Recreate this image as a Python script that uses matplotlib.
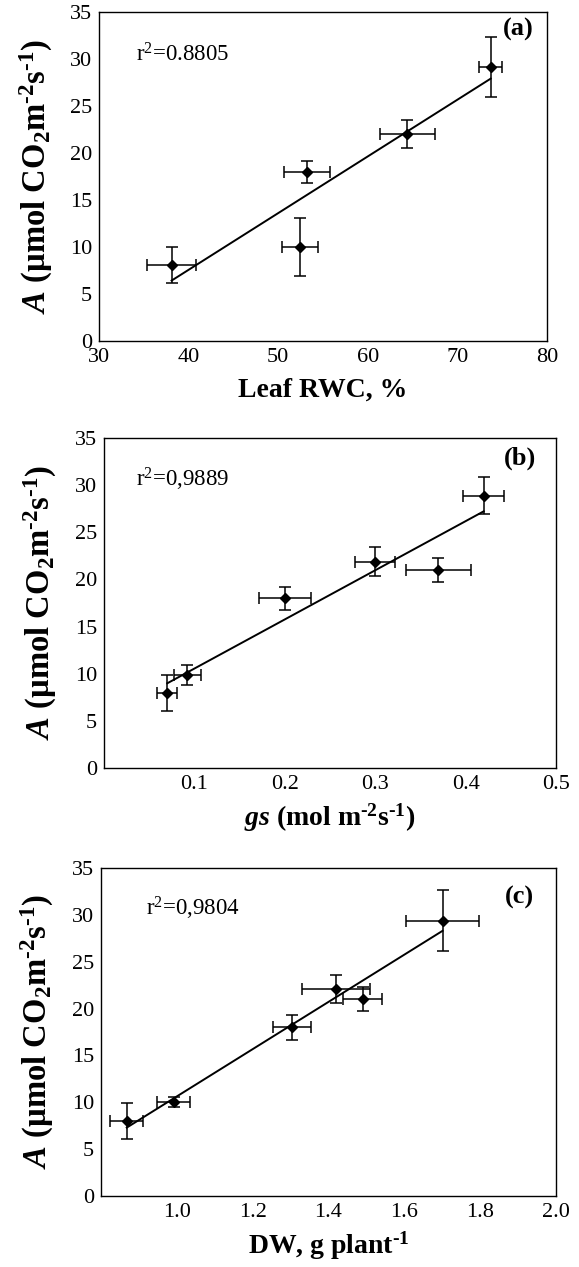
import numpy as np
import matplotlib.pyplot as plt

plt.rcParams['font.family'] = ['Liberation Serif', 'DejaVu Serif']
plt.rcParams['mathtext.fontset'] = 'custom'
plt.rcParams['mathtext.rm'] = 'Liberation Serif'
plt.rcParams['mathtext.it'] = 'Liberation Serif:italic'
plt.rcParams['mathtext.bf'] = 'Liberation Serif:bold'
plt.rcParams['mathtext.bfit'] = 'Liberation Serif:bold:italic'

# (a) leaf RWC vs A
rwc = [38.1, 53.2, 52.4, 64.4, 73.7]
rwc_err = [2.7, 2.6, 2.0, 3.1, 1.3]
a_rwc = [8.1, 18.0, 10.0, 22.0, 29.1]
a_rwc_err = [1.9, 1.15, 3.05, 1.5, 3.2]

# (b) gs vs A
gs = [0.070, 0.092, 0.200, 0.300, 0.370, 0.420]
gs_err = [0.011, 0.015, 0.029, 0.022, 0.036, 0.023]
a_gs = [8.0, 9.9, 18.0, 21.9, 21.0, 28.9]
a_gs_err = [1.9, 1.07, 1.2, 1.5, 1.25, 2.0]

# (c) DW vs A
dw = [0.868, 0.992, 1.303, 1.420, 1.490, 1.701]
dw_err = [0.044, 0.044, 0.050, 0.090, 0.051, 0.097]
a_dw = [8.0, 10.0, 18.0, 22.1, 21.0, 29.4]
a_dw_err = [1.9, 0.55, 1.3, 1.5, 1.3, 3.25]

ylab = r'$\mathbfit{A}$ (µmol CO$_{\mathbf{2}}$m$^{\mathbf{‐2}}$s$^{\mathbf{‐1}}$)'

panels = [
    dict(x=rwc, xe=rwc_err, y=a_rwc, ye=a_rwc_err, xlim=(30, 80), xt=[30, 40, 50, 60, 70, 80],
         xtl=['30', '40', '50', '60', '70', '80'], xlab='Leaf RWC, %', r2='r$^2$=0.8805',
         tag='(a)', pos=[0.171, 0.7309, 0.774, 0.2597], r2xy=(0.082, 0.868), tagxy=(0.97, 0.948)),
    dict(x=gs, xe=gs_err, y=a_gs, ye=a_gs_err, xlim=(0, 0.5), xt=[0.1, 0.2, 0.3, 0.4, 0.5],
         xtl=['0.1', '0.2', '0.3', '0.4', '0.5'],
         xlab=r'$\mathbfit{gs}$ (mol m$^{\mathbf{‐2}}$s$^{\mathbf{‐1}}$)', r2='r$^2$=0,9889',
         tag='(b)', pos=[0.1796, 0.3938, 0.7807, 0.2605], r2xy=(0.071, 0.874), tagxy=(0.957, 0.94)),
    dict(x=dw, xe=dw_err, y=a_dw, ye=a_dw_err, xlim=(0.8, 2.0), xt=[1.0, 1.2, 1.4, 1.6, 1.8, 2.0],
         xtl=['1.0', '1.2', '1.4', '1.6', '1.8', '2.0'],
         xlab=r'DW, g plant$^{\mathbf{‐1}}$', r2='r$^2$=0,9804',
         tag='(c)', pos=[0.1744, 0.0560, 0.7858, 0.2589], r2xy=(0.099, 0.876), tagxy=(0.951, 0.91)),
]

fig = plt.figure(figsize=(5.79, 12.67), dpi=100)

for p in panels:
    ax = fig.add_axes(p['pos'])
    x = np.array(p['x'])
    y = np.array(p['y'])
    # linear fit line across the data range
    k, b = np.polyfit(x, y, 1)
    xs = np.array([x.min(), x.max()])
    ax.plot(xs, k * xs + b, c='black', lw=1.4, zorder=2)
    ax.errorbar(x, y, xerr=p['xe'], yerr=p['ye'], fmt='D', ms=5, c='black',
                ecolor='black', elinewidth=1.1, capsize=4, capthick=1.1, zorder=3)
    ax.set_xlim(p['xlim'])
    ax.set_ylim(0, 35)
    ax.set_xticks(p['xt'])
    ax.set_xticklabels(p['xtl'])
    ax.set_yticks(range(0, 36, 5))
    ax.tick_params(length=0, labelsize=16, pad=5)
    for s in ax.spines.values():
        s.set_linewidth(1.0)
    ax.set_ylabel(ylab, fontsize=23.5, fontweight='bold')
    ax.set_xlabel(p['xlab'], fontsize=20, fontweight='bold')
    ax.yaxis.set_label_coords(-0.14, 0.5)
    ax.xaxis.set_label_coords(0.5, -0.15)
    ax.xaxis.label.set_va('center')
    ax.yaxis.label.set_va('center')
    ax.text(p['r2xy'][0], p['r2xy'][1], p['r2'], transform=ax.transAxes, fontsize=16.5,
            ha='left', va='center')
    ax.text(p['tagxy'][0], p['tagxy'][1], p['tag'], transform=ax.transAxes, fontsize=19,
            fontweight='bold', ha='right', va='center')

fig.savefig('out.png', dpi=100)
